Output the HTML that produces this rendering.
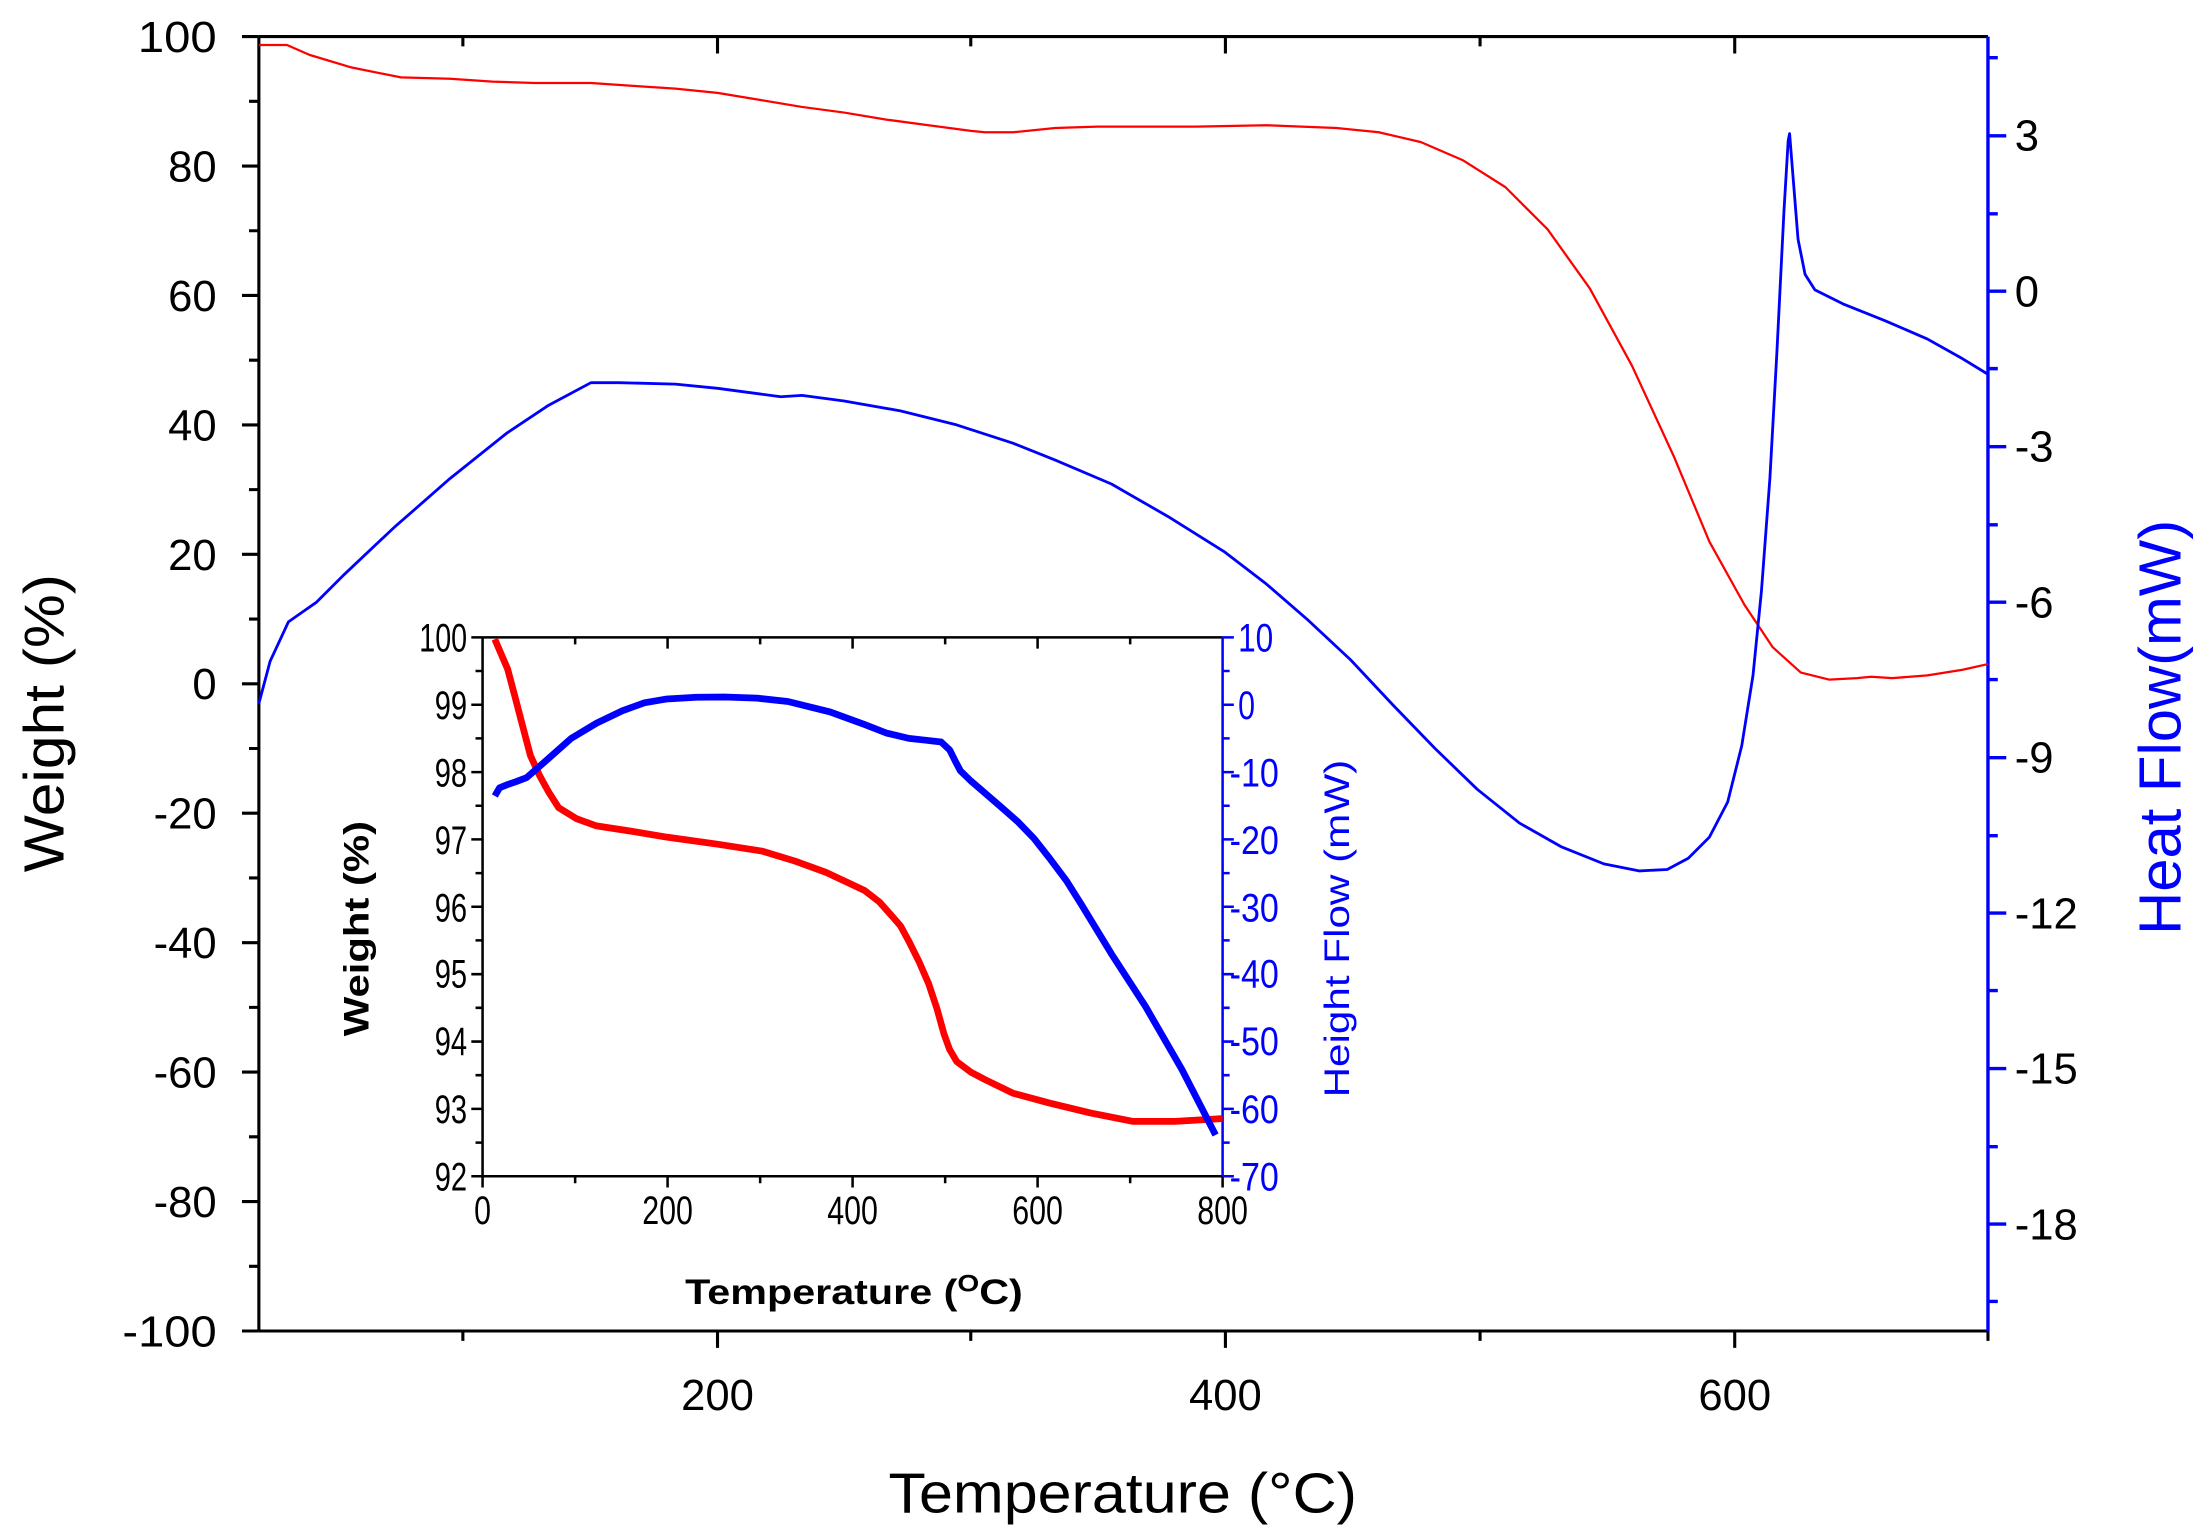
<!DOCTYPE html>
<html><head><meta charset="utf-8"><style>html,body{margin:0;padding:0;background:#fff;}svg{display:block;}</style></head>
<body>
<svg width="2199" height="1535" viewBox="0 0 1563 1091" preserveAspectRatio="none" xmlns="http://www.w3.org/2000/svg" font-family="Liberation Sans, Arial, sans-serif">
<rect width="1563" height="1091" fill="#fff"/>
<g stroke="#000" stroke-width="2.2" fill="none">
<line x1="184" y1="26" x2="1413" y2="26"/>
<line x1="184" y1="26" x2="184" y2="946"/>
<line x1="184" y1="946" x2="1413" y2="946"/>
<path d="M172 26H184M172 118H184M172 210H184M172 302H184M172 394H184M172 486H184M172 578H184M172 670H184M172 762H184M172 854H184M172 946H184"/>
<path d="M177 72H184M177 164H184M177 256H184M177 348H184M177 440H184M177 532H184M177 624H184M177 716H184M177 808H184M177 900H184"/>
<path d="M510 946V958M871 946V958M1233 946V958M329 946V953M690 946V953M1052 946V953M1413 946V953"/>
<path d="M510 26V38M871 26V38M1233 26V38M329 26V33M690 26V33M1052 26V33"/>
</g>
<g stroke="#00f" stroke-width="2.4" fill="none">
<line x1="1413" y1="26" x2="1413" y2="946"/>
<path d="M1413 96.5H1426M1413 207H1426M1413 317.5H1426M1413 428H1426M1413 538.5H1426M1413 649H1426M1413 759.5H1426M1413 870H1426"/>
<path d="M1413 41H1420M1413 152H1420M1413 262H1420M1413 373H1420M1413 483H1420M1413 594H1420M1413 704H1420M1413 815H1420M1413 925H1420"/>
</g>
<g font-size="31" fill="#000" text-anchor="end">
<text x="154" y="37" textLength="56" lengthAdjust="spacingAndGlyphs">100</text><text x="154" y="129">80</text><text x="154" y="221">60</text><text x="154" y="313">40</text><text x="154" y="405">20</text><text x="154" y="497">0</text><text x="154" y="589">-20</text><text x="154" y="681">-40</text><text x="154" y="773">-60</text><text x="154" y="865">-80</text><text x="154" y="957" textLength="67" lengthAdjust="spacingAndGlyphs">-100</text>
</g>
<g font-size="31" fill="#000" text-anchor="start">
<text x="1432" y="107">3</text><text x="1432" y="218">0</text><text x="1432" y="328">-3</text><text x="1432" y="439">-6</text><text x="1432" y="549">-9</text><text x="1432" y="660">-12</text><text x="1432" y="770">-15</text><text x="1432" y="881">-18</text>
</g>
<g font-size="31" fill="#000" text-anchor="middle">
<text x="510" y="1002">200</text><text x="871" y="1002">400</text><text x="1233" y="1002">600</text>
</g>
<text x="798" y="1075" font-size="40" text-anchor="middle" textLength="333" lengthAdjust="spacingAndGlyphs">Temperature (°C)</text>
<text transform="translate(45,514) rotate(-90)" font-size="40" text-anchor="middle" textLength="212" lengthAdjust="spacingAndGlyphs">Weight (%)</text>
<text transform="translate(1550,517) rotate(-90)" font-size="42" fill="#00f" text-anchor="middle" textLength="295" lengthAdjust="spacingAndGlyphs">Heat Flow(mW)</text>
<polyline fill="none" stroke="#f00" stroke-width="1.6" stroke-linejoin="round" points="184,32 204,32 220,39 250,48 285,55 320,56 350,58 380,59 420,59 450,61 480,63 510,66 540,71 570,76 600,80 630,85 660,89 690,93 700,94 720,94 750,91 780,90 850,90 900,89 950,91 980,94 1010,101 1040,114 1070,133 1100,163 1130,205 1160,260 1190,325 1215,385 1240,430 1260,460 1280,478 1300,483 1320,482 1330,481 1345,482 1370,480 1395,476 1413,472"/>
<polyline fill="none" stroke="#00f" stroke-width="2" stroke-linejoin="round" points="184,500 192,470 205,442 215,435 225,428 245,408 280,375 320,340 360,308 390,288 420,272 440,272 480,273 510,276 540,280 555,282 570,281 600,285 640,292 680,302 720,315 750,327 790,344 830,367 870,392 900,415 930,441 960,469 990,501 1020,532 1050,561 1080,585 1110,602 1140,614 1165,619 1185,618 1200,610 1215,595 1228,570 1238,530 1246,480 1252,420 1258,340 1263,250 1268,150 1271,100 1272,95 1274,120 1278,170 1283,195 1290,206 1310,216 1340,228 1370,241 1395,255 1413,266"/>
<rect x="343" y="453" width="526" height="383" fill="#fff"/>
<g stroke="#000" stroke-width="1.8" fill="none">
<line x1="343" y1="453" x2="869" y2="453"/>
<line x1="343" y1="453" x2="343" y2="836"/>
<line x1="343" y1="836" x2="869" y2="836"/>
<path d="M335 453H343M335 500.9H343M335 548.8H343M335 596.6H343M335 644.5H343M335 692.4H343M335 740.3H343M335 788.1H343M335 836H343"/>
<path d="M338 476.9H343M338 524.8H343M338 572.7H343M338 620.6H343M338 668.4H343M338 716.3H343M338 764.2H343M338 812.1H343"/>
<path d="M343 836V844M474.5 836V844M606 836V844M737.5 836V844M869 836V844M408.8 836V841M540.3 836V841M671.8 836V841M803.3 836V841"/>
<path d="M474.5 453V461M606 453V461M737.5 453V461M408.8 453V458M540.3 453V458M671.8 453V458M803.3 453V458"/>
</g>
<g stroke="#00f" stroke-width="1.8" fill="none">
<line x1="869" y1="453" x2="869" y2="836"/>
<path d="M869 453H877M869 500.9H877M869 548.8H877M869 596.6H877M869 644.5H877M869 692.4H877M869 740.3H877M869 788.1H877M869 836H877"/>
<path d="M869 476.9H874M869 524.8H874M869 572.7H874M869 620.6H874M869 668.4H874M869 716.3H874M869 764.2H874M869 812.1H874"/>
</g>
<g font-size="28" fill="#000" text-anchor="end">
<text x="332" y="463" textLength="34" lengthAdjust="spacingAndGlyphs">100</text>
<text x="332" y="511" textLength="23" lengthAdjust="spacingAndGlyphs">99</text>
<text x="332" y="559" textLength="23" lengthAdjust="spacingAndGlyphs">98</text>
<text x="332" y="607" textLength="23" lengthAdjust="spacingAndGlyphs">97</text>
<text x="332" y="655" textLength="23" lengthAdjust="spacingAndGlyphs">96</text>
<text x="332" y="702" textLength="23" lengthAdjust="spacingAndGlyphs">95</text>
<text x="332" y="750" textLength="23" lengthAdjust="spacingAndGlyphs">94</text>
<text x="332" y="798" textLength="23" lengthAdjust="spacingAndGlyphs">93</text>
<text x="332" y="846" textLength="23" lengthAdjust="spacingAndGlyphs">92</text>
</g>
<g font-size="28" fill="#00f" text-anchor="start">
<text x="880" y="463" textLength="25" lengthAdjust="spacingAndGlyphs">10</text>
<text x="880" y="511" textLength="12" lengthAdjust="spacingAndGlyphs">0</text>
<text x="874" y="559" textLength="35" lengthAdjust="spacingAndGlyphs">-10</text>
<text x="874" y="607" textLength="35" lengthAdjust="spacingAndGlyphs">-20</text>
<text x="874" y="655" textLength="35" lengthAdjust="spacingAndGlyphs">-30</text>
<text x="874" y="702" textLength="35" lengthAdjust="spacingAndGlyphs">-40</text>
<text x="874" y="750" textLength="35" lengthAdjust="spacingAndGlyphs">-50</text>
<text x="874" y="798" textLength="35" lengthAdjust="spacingAndGlyphs">-60</text>
<text x="874" y="846" textLength="35" lengthAdjust="spacingAndGlyphs">-70</text>
</g>
<g font-size="28" fill="#000" text-anchor="middle">
<text x="343" y="870" textLength="12" lengthAdjust="spacingAndGlyphs">0</text>
<text x="474.5" y="870" textLength="36" lengthAdjust="spacingAndGlyphs">200</text>
<text x="606" y="870" textLength="36" lengthAdjust="spacingAndGlyphs">400</text>
<text x="737.5" y="870" textLength="36" lengthAdjust="spacingAndGlyphs">600</text>
<text x="869" y="870" textLength="36" lengthAdjust="spacingAndGlyphs">800</text>
</g>
<text x="487" y="927" font-size="25" font-weight="bold" textLength="240" lengthAdjust="spacingAndGlyphs">Temperature (<tspan font-size="17" dy="-9">O</tspan><tspan dy="9">C)</tspan></text>
<text transform="translate(262,660) rotate(-90)" font-size="25" font-weight="bold" text-anchor="middle" textLength="153" lengthAdjust="spacingAndGlyphs">Weight (%)</text>
<text transform="translate(959,660) rotate(-90)" font-size="25" fill="#00f" text-anchor="middle" textLength="240" lengthAdjust="spacingAndGlyphs">Height Flow (mW)</text>
<polyline fill="none" stroke="#f00" stroke-width="4.8" stroke-linejoin="round" points="351.7,454.3 355,462 360.8,475.5 366,495 372,518 377,537 383.4,551 390,563 397,574 410,582 424,587 450,591 474,595 510,600 542,605 565,612 587,620 602,627 614.6,633 625,641 632.6,649.5 640,658 646,669 653,683 660,699 666,717 671,735 675,746 680,754.5 690,762 700.7,767.6 720,777 746,784 775,791 805,797 835,797 864,795.3 869,795"/>
<polyline fill="none" stroke="#00f" stroke-width="4.8" stroke-linejoin="round" points="351.7,565.7 355,560 360.8,557.6 367,555.5 374.3,552.7 390,539 406,524.8 424,514 442.3,505.2 458,499.5 474,496.8 495,495.6 515,495.4 538,496.2 560,498.6 590,506 614.6,515 630,521 646,524.8 657,526 669,527.4 675,533 679,541 682.6,547.8 690,555 700.7,564.2 712,574 723.3,583.9 735,596 746,610 758,626 768.7,643 790,678 814,715 840,760 864,806.7"/>
</svg>
</body></html>
